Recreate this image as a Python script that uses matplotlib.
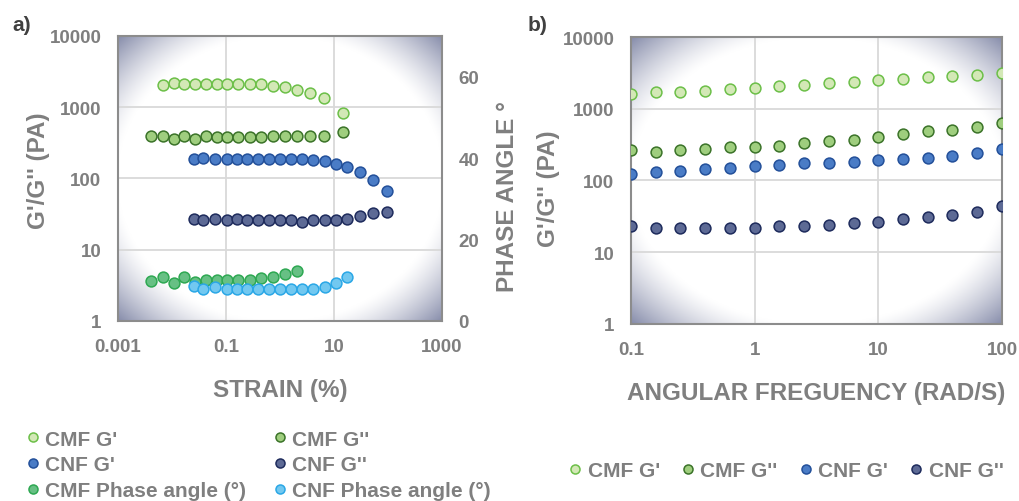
import numpy as np
import matplotlib
matplotlib.use("Agg")
import matplotlib.pyplot as plt
from matplotlib.colors import LinearSegmentedColormap
from matplotlib.lines import Line2D

# ---- panel a: strain sweep ----
cmf_strain = [0.00403, 0.0069, 0.0109, 0.0167, 0.0263, 0.0426, 0.067, 0.106, 0.166,
              0.278, 0.451, 0.731, 1.22, 2.04, 3.59, 6.53, 14.8]
cmf_g1_a = [2034, 2220, 2130, 2110, 2130, 2120, 2130, 2120, 2110, 2120, 2000, 1950,
            1760, 1590, 1340, 825]
cmf_g2_a = [392, 398, 356, 398, 360, 398, 384, 384, 384, 379, 384, 398, 398, 398, 398,
            398, 451]
cmf_phase = [9.74, 10.8, 9.33, 10.8, 9.5, 10.07, 10.07, 10.07, 10.07, 10.07, 10.47,
             10.8, 11.62, 12.19]

cnf_strain = [0.0255, 0.038, 0.0634, 0.103, 0.158, 0.241, 0.392, 0.617, 1.0, 1.58,
              2.55, 4.03, 6.71, 10.9, 17.7, 30.3, 53.4, 94.4]
cnf_g1_a = [187, 191, 185, 185, 185, 185, 185, 185, 185, 185, 185, 179, 175, 162, 146,
            123, 95.7, 66.4]
cnf_g2_a = [27.2, 26.1, 27.2, 26.1, 27.2, 26.1, 26.1, 26.1, 26.1, 26.1, 24.9, 26.1,
            26.1, 26.1, 27.2, 29.6, 33.0, 34.1]
cnf_phase = [8.67, 7.94, 8.35, 7.94, 7.94, 7.94, 7.94, 7.94, 7.94, 7.94, 7.94, 7.94,
             8.35, 9.41, 10.8]

# ---- panel b: frequency sweep ----
freq = [0.1, 0.158, 0.251, 0.398, 0.631, 1.0, 1.58, 2.51, 3.98, 6.31, 10, 15.8, 25.1,
        39.8, 63.1, 100]
cmf_g1_b = [1619, 1689, 1709, 1784, 1881, 1963, 2049, 2160, 2254, 2380, 2484, 2622,
            2736, 2856, 2981, 3111]
cmf_g2_b = [262, 251, 262, 277, 289, 289, 305, 336, 350, 366, 403, 443, 488, 509, 561,
            638]
cnf_g1_b = [125, 131, 136, 144, 150, 157, 165, 173, 173, 182, 190, 199, 207, 219, 241,
            274]
cnf_g2_b = [23.1, 22.1, 22.1, 22.1, 22.1, 22.1, 23.1, 23.1, 24.1, 25.4, 26.5, 29.2,
            30.5, 33.5, 36.9, 44.3]

STYLES = {
    "CMF G'": dict(mfc="#d3e8b6", mec="#6cbf48"),
    "CMF G''": dict(mfc="#9fce7e", mec="#3b7329"),
    "CNF G'": dict(mfc="#4a7cc6", mec="#23509a"),
    "CNF G''": dict(mfc="#5d6a95", mec="#1e2b5c"),
    "CMF Phase angle (°)": dict(mfc="#67c084", mec="#2ea852"),
    "CNF Phase angle (°)": dict(mfc="#72c8f0", mec="#2aa7e6"),
}

GRAY = "#7f7f7f"
FONT = "Liberation Sans"
plt.rcParams["font.family"] = [FONT, "DejaVu Sans"]
plt.rcParams["font.weight"] = "bold"
plt.rcParams["axes.labelweight"] = "bold"


def pts(ax, x, y, name, ms=7.8):
    ax.plot(x, y, "o", ls="none", ms=ms, mew=1.1, **STYLES[name], label=name, zorder=3)


def backdrop(fig, ax):
    # radial fade from white centre to grey-blue corners
    pos = ax.get_position()
    bg = fig.add_axes(pos, zorder=-1)
    bg.axis("off")
    xx, yy = np.meshgrid(np.linspace(-1, 1, 400), np.linspace(-1, 1, 400))
    r = np.sqrt(xx ** 2 + yy ** 2)
    t = np.clip((r - 1.0) / (np.sqrt(2) - 1.0), 0, 1) ** 1.3
    cmap = LinearSegmentedColormap.from_list("bg", ["#ffffff", "#868caa"])
    bg.imshow(t, cmap=cmap, vmin=0, vmax=1, extent=[0, 1, 0, 1], aspect="auto")
    bg.set_xlim(0, 1)
    bg.set_ylim(0, 1)
    ax.patch.set_visible(False)


def style_axes(ax):
    ax.set_xscale("log")
    ax.set_yscale("log")
    ax.set_ylim(1, 10000)
    ax.set_yticks([1, 10, 100, 1000, 10000])
    ax.set_yticklabels(["1", "10", "100", "1000", "10000"])
    ax.minorticks_off()
    ax.grid(True, color="#d9d9d9", lw=1.3)
    ax.set_axisbelow(True)
    for s in ax.spines.values():
        s.set_color("#8c8c8c")
        s.set_linewidth(1.5)
    ax.tick_params(length=0, pad=12, labelsize=13.5, labelcolor=GRAY)


fig = plt.figure(figsize=(10.19, 5.02), dpi=100)

ax1 = fig.add_axes([0.1158, 0.3586, 0.318, 0.5677])
ax2 = fig.add_axes([0.6192, 0.3526, 0.3641, 0.5717])

# panel a
style_axes(ax1)
ax1.set_xlim(0.001, 1000)
ax1.set_xticks([0.001, 0.1, 10, 1000])
ax1.set_xticklabels(["0.001", "0.1", "10", "1000"])
pts(ax1, cmf_strain[1:], cmf_g1_a, "CMF G'")
pts(ax1, cmf_strain, cmf_g2_a, "CMF G''")
pts(ax1, cnf_strain, cnf_g1_a, "CNF G'")
pts(ax1, cnf_strain, cnf_g2_a, "CNF G''")
ax1.set_xlabel("STRAIN (%)", fontsize=17.5, color=GRAY, labelpad=17)
ax1.set_ylabel("G'/G'' (PA)", fontsize=17.5, color=GRAY)
ax1.yaxis.set_label_coords(-0.21, 0.53)

ax1r = ax1.twinx()
ax1r.set_ylim(0, 70)
ax1r.set_yticks([0, 20, 40, 60])
pts(ax1r, cmf_strain[:len(cmf_phase)], cmf_phase, "CMF Phase angle (°)")
pts(ax1r, cnf_strain[:len(cnf_phase)], cnf_phase, "CNF Phase angle (°)")
ax1r.tick_params(length=0, pad=12, labelsize=13.5, labelcolor=GRAY)
for s in ax1r.spines.values():
    s.set_visible(False)
ax1r.set_ylabel("PHASE ANGLE °", fontsize=17.5, color=GRAY)
ax1r.yaxis.set_label_coords(1.165, 0.44)

# panel b
style_axes(ax2)
ax2.set_xlim(0.1, 100)
ax2.set_xticks([0.1, 1, 10, 100])
ax2.set_xticklabels(["0.1", "1", "10", "100"])
pts(ax2, freq, cmf_g1_b, "CMF G'")
pts(ax2, freq, cmf_g2_b, "CMF G''")
pts(ax2, freq, cnf_g1_b, "CNF G'")
pts(ax2, freq, cnf_g2_b, "CNF G''")
ax2.set_xlabel("ANGULAR FREGUENCY (RAD/S)", fontsize=17.5, color=GRAY, labelpad=17)
ax2.set_ylabel("G'/G'' (PA)", fontsize=17.5, color=GRAY)
ax2.yaxis.set_label_coords(-0.19, 0.474)

backdrop(fig, ax1)
backdrop(fig, ax2)

fig.text(0.012, 0.95, "a)", fontsize=15, color="#404040", fontweight="bold", va="center")
fig.text(0.518, 0.95, "b)", fontsize=15, color="#404040", fontweight="bold", va="center")

# legends
def handle(name):
    return Line2D([], [], marker="o", ls="none", ms=6.5, mew=1.1, **STYLES[name])

order_a = ["CMF G'", "CNF G'", "CMF Phase angle (°)",
           "CMF G''", "CNF G''", "CNF Phase angle (°)"]
leg_a = fig.legend([handle(n) for n in order_a], order_a, ncol=2,
                   loc="center left", bbox_to_anchor=(0.018, 0.072), frameon=False,
                   fontsize=15, handlelength=0.6, handletextpad=0.3,
                   columnspacing=1.3, labelspacing=0.32, borderaxespad=0)
order_b = ["CMF G'", "CMF G''", "CNF G'", "CNF G''"]
leg_b = fig.legend([handle(n) for n in order_b], order_b, ncol=4,
                   loc="center left", bbox_to_anchor=(0.550, 0.06), frameon=False,
                   fontsize=15, handlelength=0.6, handletextpad=0.3,
                   columnspacing=1.05, borderaxespad=0)
for leg in (leg_a, leg_b):
    for t in leg.get_texts():
        t.set_color(GRAY)
        t.set_fontweight("bold")

fig.savefig("out.png", dpi=100)
